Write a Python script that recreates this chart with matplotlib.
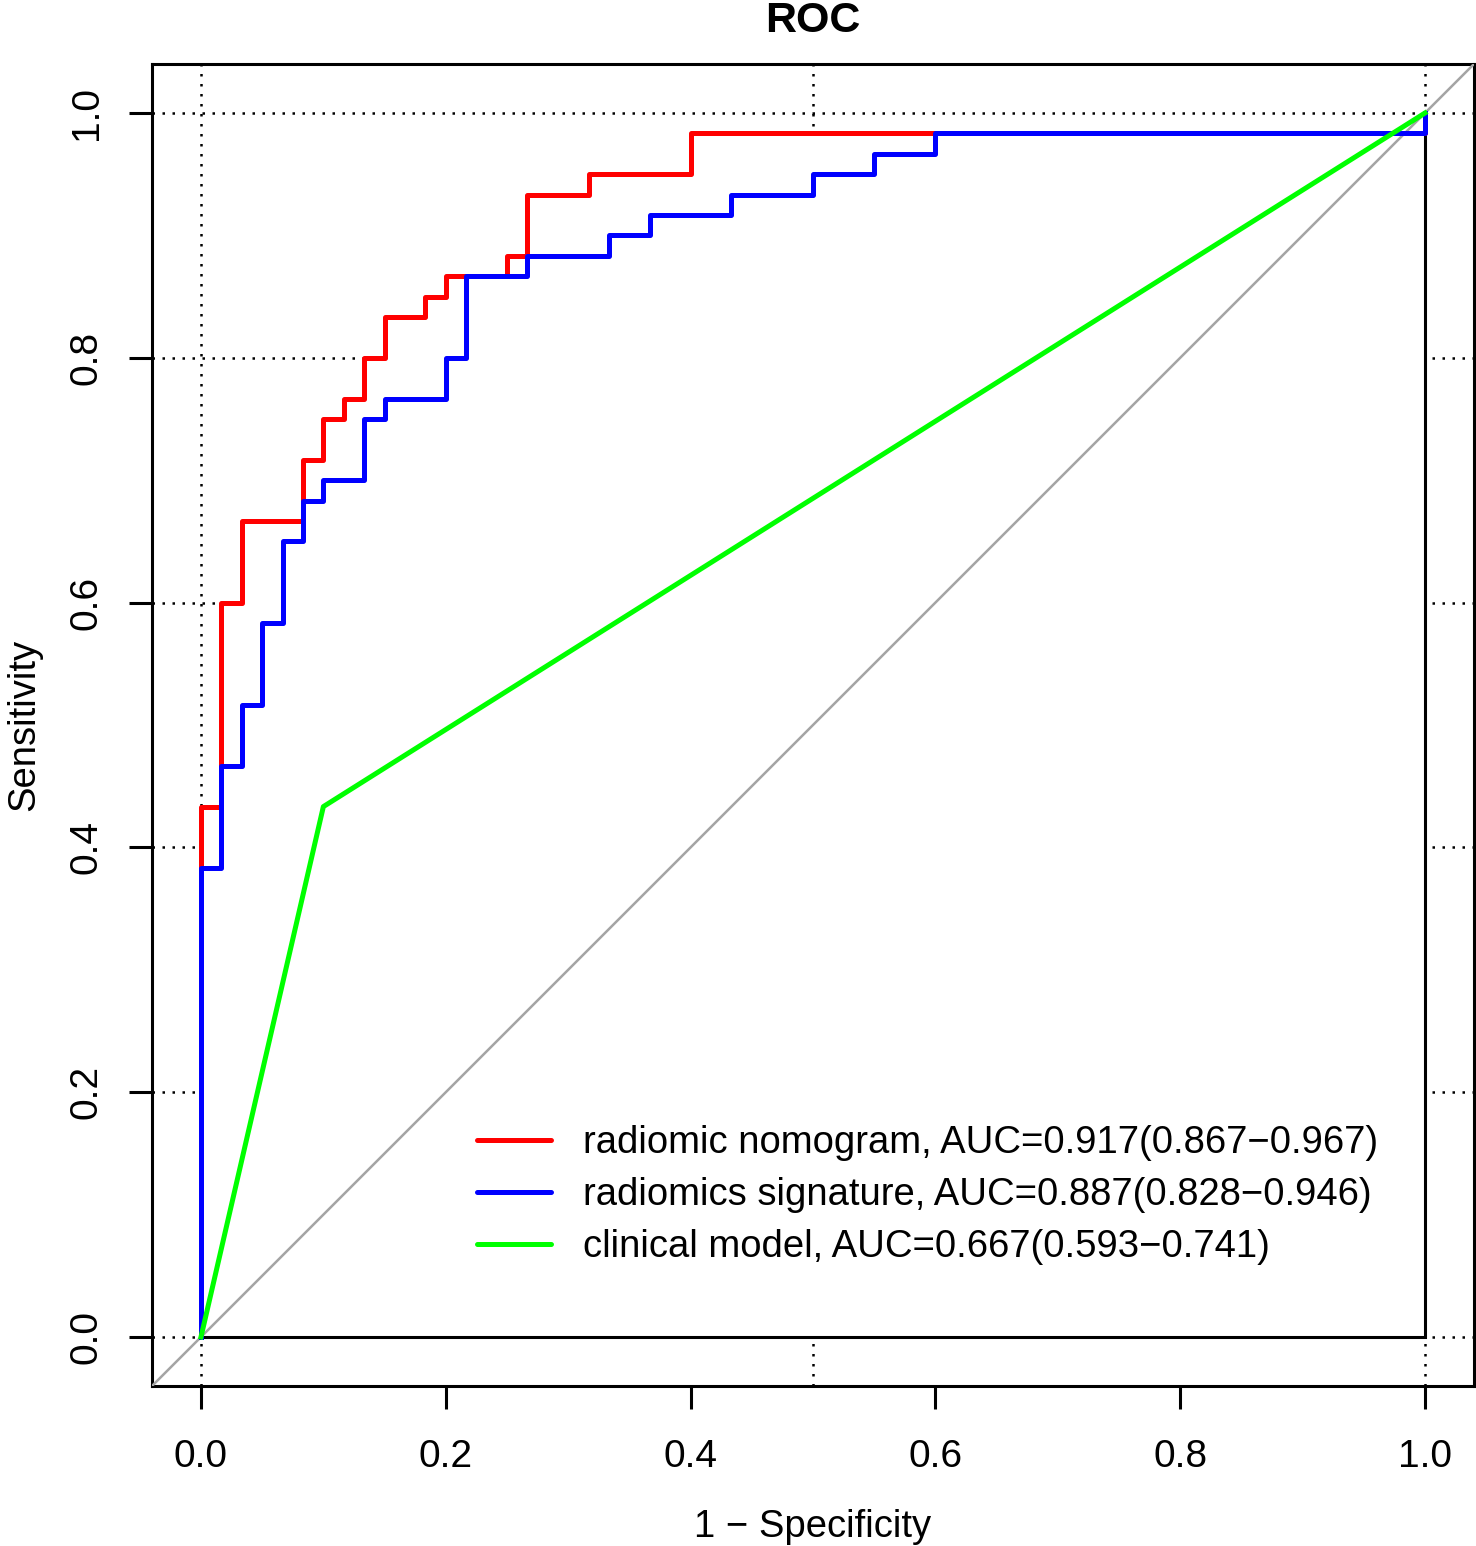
import numpy as np
import matplotlib
matplotlib.use("Agg")
import matplotlib.pyplot as plt

plt.rcParams['font.family'] = ['Liberation Sans', 'DejaVu Sans']

# ROC step points, in units of 1/60 (60 positives, 60 negatives)
nomo_fpr = [0, 0, 1, 2, 5, 6, 7, 8, 9, 11, 12, 15, 16, 19, 24, 60]
nomo_tpr = [0, 26, 36, 40, 43, 45, 46, 48, 50, 51, 52, 53, 56, 57, 59, 60]

sig_fpr = [0, 0, 1, 2, 3, 4, 5, 6, 8, 9, 12, 13, 16, 20, 22, 26, 30, 33, 36, 60]
sig_tpr = [0, 23, 28, 31, 35, 39, 41, 42, 45, 46, 48, 52, 53, 54, 55, 56, 57, 58, 59, 60]

clin_fpr = [0, 6, 60]
clin_tpr = [0, 26, 60]

labels = ["radiomic nomogram, AUC=0.917(0.867\u22120.967)",
          "radiomics signature, AUC=0.887(0.828\u22120.946)",
          "clinical model, AUC=0.667(0.593\u22120.741)"]
colors = ["#ff0000", "#0000ff", "#00ff00"]

ticks = [0.0, 0.2, 0.4, 0.6, 0.8, 1.0]
grid_x = [0.0, 0.5, 1.0]
grid_y = ticks

nomo_x = np.array(nomo_fpr) / 60
nomo_y = np.array(nomo_tpr) / 60
sig_x = np.array(sig_fpr) / 60
sig_y = np.array(sig_tpr) / 60
clin_x = np.array(clin_fpr) / 60
clin_y = np.array(clin_tpr) / 60

fig = plt.figure(figsize=(14.76, 15.46), dpi=100)
ax = fig.add_axes([152 / 1476, 160 / 1546, 1322 / 1476, 1322 / 1546])
ax.set_xlim(-0.04, 1.04)
ax.set_ylim(-0.04, 1.04)

dots = (0, (1, 3.0))
for gx in grid_x:
    ax.axvline(gx, color="black", lw=1.8, ls=dots, zorder=1)
for gy in grid_y:
    ax.axhline(gy, color="black", lw=1.8, ls=dots, zorder=1)

# white area under the nomogram curve hides the grid
sx = np.repeat(nomo_x, 2)[1:]
sy = np.repeat(nomo_y, 2)[:-1]
px = np.concatenate([sx, [1.0]])
py = np.concatenate([sy, [0.0]])
ax.fill(px, py, facecolor="white", edgecolor="black", lw=2.2, zorder=2)

ax.axline((0, 0), (1, 1), color="#a4a4a4", lw=1.8, zorder=3)

ax.step(nomo_x, nomo_y, where="post", color=colors[0], lw=3.6, zorder=4, label=labels[0])
ax.step(sig_x, sig_y, where="post", color=colors[1], lw=3.6, zorder=5, label=labels[1])
ax.plot(clin_x, clin_y, color=colors[2], lw=3.6, zorder=6, label=labels[2])

ax.set_xticks(ticks)
ax.set_yticks(ticks)
ax.set_xticklabels(["%.1f" % t for t in ticks])
ax.set_yticklabels(["%.1f" % t for t in ticks])
ax.tick_params(direction="out", length=16.5, width=2.2, labelsize=28, pad=22)
ax.tick_params(axis="y", labelrotation=90, pad=17.5)
for lab in ax.get_yticklabels():
    lab.set_va("center")
for sp in ax.spines.values():
    sp.set_linewidth(2.2)

ax.set_xlabel("1 \u2212 Specificity", fontsize=27.5, labelpad=24)
ax.set_ylabel("Sensitivity", fontsize=27.5, labelpad=19)
ax.set_title("ROC", fontsize=31, fontweight="bold", pad=23)

leg = ax.legend(loc="upper left", bbox_to_anchor=(0.2458, 0.1974), frameon=False,
                fontsize=27.5, handlelength=1.94, handletextpad=0.84, labelspacing=0.42,
                borderpad=0, borderaxespad=0)
for h in leg.get_lines():
    h.set_solid_capstyle("round")

fig.savefig("out.png", dpi=100)
